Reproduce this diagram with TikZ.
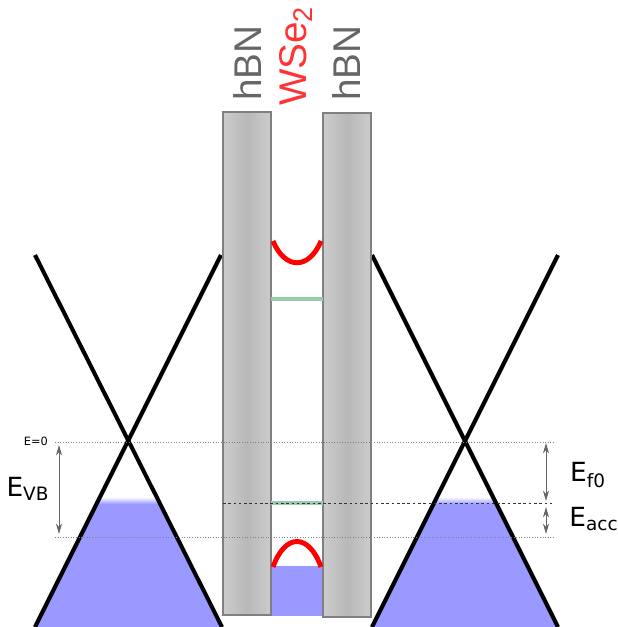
\documentclass[tikz,border=0pt]{standalone}
\usepackage{fontspec}
\setmainfont{Liberation Sans}
\newfontfamily\dejavu{DejaVu Sans}
\usetikzlibrary{arrows.meta}
\definecolor{slabgray}{HTML}{CCCCCC}
\definecolor{slabdark}{HTML}{B8B8B8}
\definecolor{holeblue}{HTML}{9999FF}
\definecolor{bandgreen}{HTML}{99CCAA}
\definecolor{labelgray}{HTML}{666666}
\definecolor{wsered}{HTML}{FF3333}
\def \lw{2.3pt}

\tikzset{
  slab/.style={draw=gray, line width=0.7pt, left color=slabgray, right color=slabgray, middle color=slabdark},
  cone/.style={black, line width=\lw},
  band/.style={red, line width=2.8pt},
  flat/.style={bandgreen, line width=2.2pt},
  level/.style={densely dotted, gray, line width=0.5pt},
  fermi/.style={black!80, dash pattern=on 1.5pt off 1.5pt, line width=0.5pt},
  gaparrow/.style={{Stealth[length=6pt,width=3.5pt]}-{Stealth[length=6pt,width=3.5pt]}, black!60, line width=0.5pt},
  layer/.style={rotate=90, font=\fontsize{22}{22}\selectfont},
  elabel/.style={font=\dejavu\fontsize{15}{15}\selectfont},
}

\begin{document}
\begin{tikzpicture}[x=0.02cm, y=-0.02cm]
    \useasboundingbox (0,0) rectangle (618,627);

    % filled states in the graphene cones
    \begin{scope}
      \clip (128,442) -- (222,627) -- (35,627) -- cycle
            (465,442) -- (558,627) -- (372,627) -- cycle;
      \fill[holeblue] (0,504) rectangle (618,627);
      \shade[top color=white, bottom color=holeblue] (0,497) rectangle (618,504);
    \end{scope}
    \draw[cone] (35,255) -- (222,627);
    \draw[cone] (221,255) -- (35,627);
    \draw[cone] (372,255) -- (558,627);
    \draw[cone] (558,255) -- (372,627);

    % hBN / WSe2 / hBN stack
    \fill[holeblue] (271,566) rectangle (323,616);
    \draw[slab] (223,112) rectangle (271,615);
    \draw[slab] (323,113) rectangle (371,617);
    \draw[band] (273,241) .. controls (285,270) and (309,270) .. (321,241);
    \draw[band] (273,567) .. controls (285,533) and (309,533) .. (321,567);
    \draw[flat] (271,299) -- (323,299);
    \draw[flat] (271,503) -- (323,503);

    \node[layer, labelgray] (hbnL) at (247,63) {hBN};
    \node[layer, wsered] (wse) at (296,56) {WSe\textsubscript{2}};
    \node[layer, labelgray] (hbnR) at (346,63) {hBN};

    % energy levels
    \coordinate (zeroL) at (55,442);
    \coordinate (zeroR) at (555,442);
    \coordinate (fermiL) at (223,503);
    \coordinate (fermiR) at (555,503);
    \coordinate (accL) at (55,537);
    \coordinate (accR) at (555,537);
    \draw[level] (zeroL) -- (zeroR);
    \draw[fermi] (fermiL) -- (fermiR);
    \draw[level] (accL) -- (accR);
    \node[anchor=east, font=\dejavu\fontsize{6.5}{6.5}\selectfont, inner sep=1pt] (ezero) at (50,441) {E=0};

    \coordinate (vbTop) at (59,445);
    \coordinate (vbBot) at (59,534);
    \coordinate (fTop) at (546,443);
    \coordinate (fBot) at (546,501);
    \coordinate (aTop) at (546,507);
    \coordinate (aBot) at (546,534);
    \draw[gaparrow] (vbTop) -- (vbBot);
    \draw[gaparrow] (fTop) -- (fBot);
    \draw[gaparrow] (aTop) -- (aBot);

    \node[elabel] (evb) at (28,489) {E\textsubscript{VB}};
    \node[elabel] (ef) at (588,475) {E\textsubscript{f0}};
    \node[elabel, inner sep=0pt] (eacc) at (594,519) {E\textsubscript{acc}};
  \end{tikzpicture}
\end{document}
